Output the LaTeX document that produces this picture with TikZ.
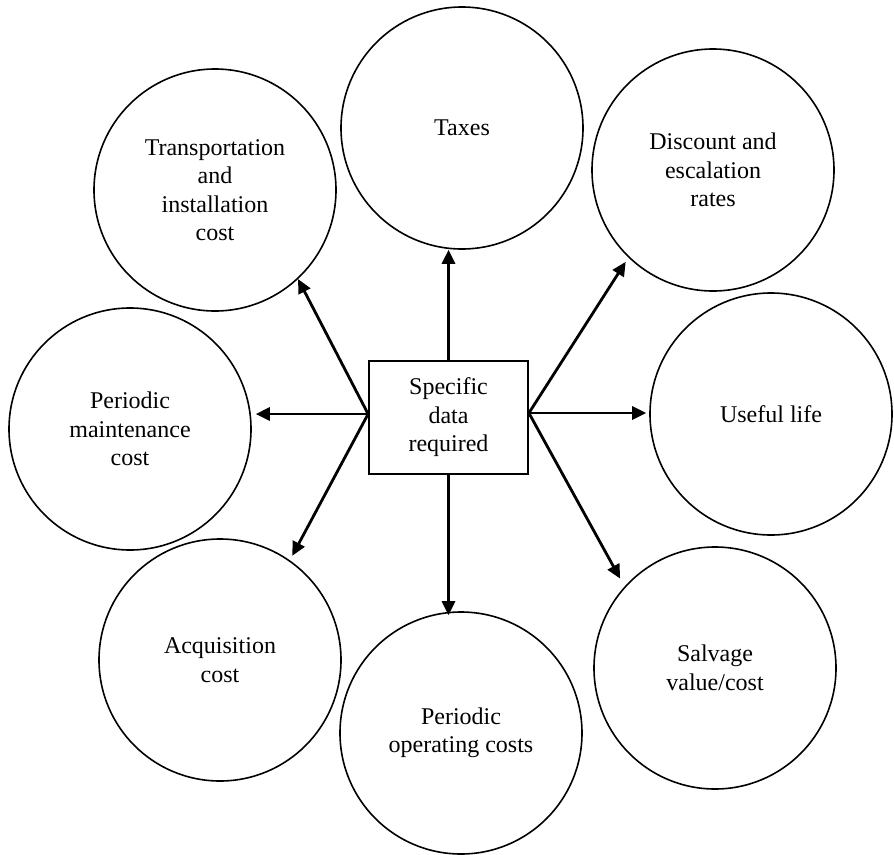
\documentclass[tikz,border=0pt]{standalone}
\usepackage{fontspec}
\setmainfont{Liberation Serif}
\usetikzlibrary{arrows.meta}
\begin{document}
\begin{tikzpicture}[x=1pt,y=-1pt,
  topic/.style={circle,draw,line width=1.6pt,minimum size=242pt,inner sep=0pt,
    align=center,font=\fontsize{24}{28.5}\selectfont},
  hub/.style={rectangle,draw,line width=1.8pt,minimum width=159pt,minimum height=113pt,
    inner sep=0pt,align=center,font=\fontsize{24}{28.5}\selectfont},
  link/.style={line width=2.8pt,-{Triangle[length=14pt,width=13pt]}}]
\useasboundingbox (0,0) rectangle (894,854);

% central box
\node[hub] (box) at (448.5,417.5) {Specific\\data\\required};

% surrounding circles
\node[topic] (taxes)  at (462,128) {Taxes};
\node[topic] (disc)   at (713,170) {Discount and\\escalation\\rates};
\node[topic] (useful) at (771,414) {Useful life};
\node[topic] (salv)   at (715,668) {Salvage\\value/cost};
\node[topic] (ops)    at (461,733) {Periodic\\operating costs};
\node[topic] (acq)    at (220,660) {Acquisition\\cost};
\node[topic] (maint)  at (130,429) {Periodic\\maintenance\\cost};
\node[topic] (trans)  at (215,190) {Transportation\\and\\installation\\cost};

% arrow origins on the box sides
\coordinate (L) at ([yshift=3.5pt]box.west);
\coordinate (R) at ([yshift=4.5pt]box.east);

% arrows
\draw[link] (box.north) -- (box.north |- taxes.south);
\draw[link] (box.south) -- ([yshift=-4pt]box.south |- ops.north);
\draw[link] (R) -- ([xshift=-3pt]R -| useful.west);
\draw[link] (L) -- ([xshift=4pt]L -| maint.east);
\draw[link] (L) -- (trans.-47);
\draw[link,shorten >=5pt] (L) -- (acq.55);
\draw[link,shorten >=5pt] (R) -- (disc.-134);
\draw[link,shorten >=9pt] (R) -- (salv.138);
\end{tikzpicture}
\end{document}
